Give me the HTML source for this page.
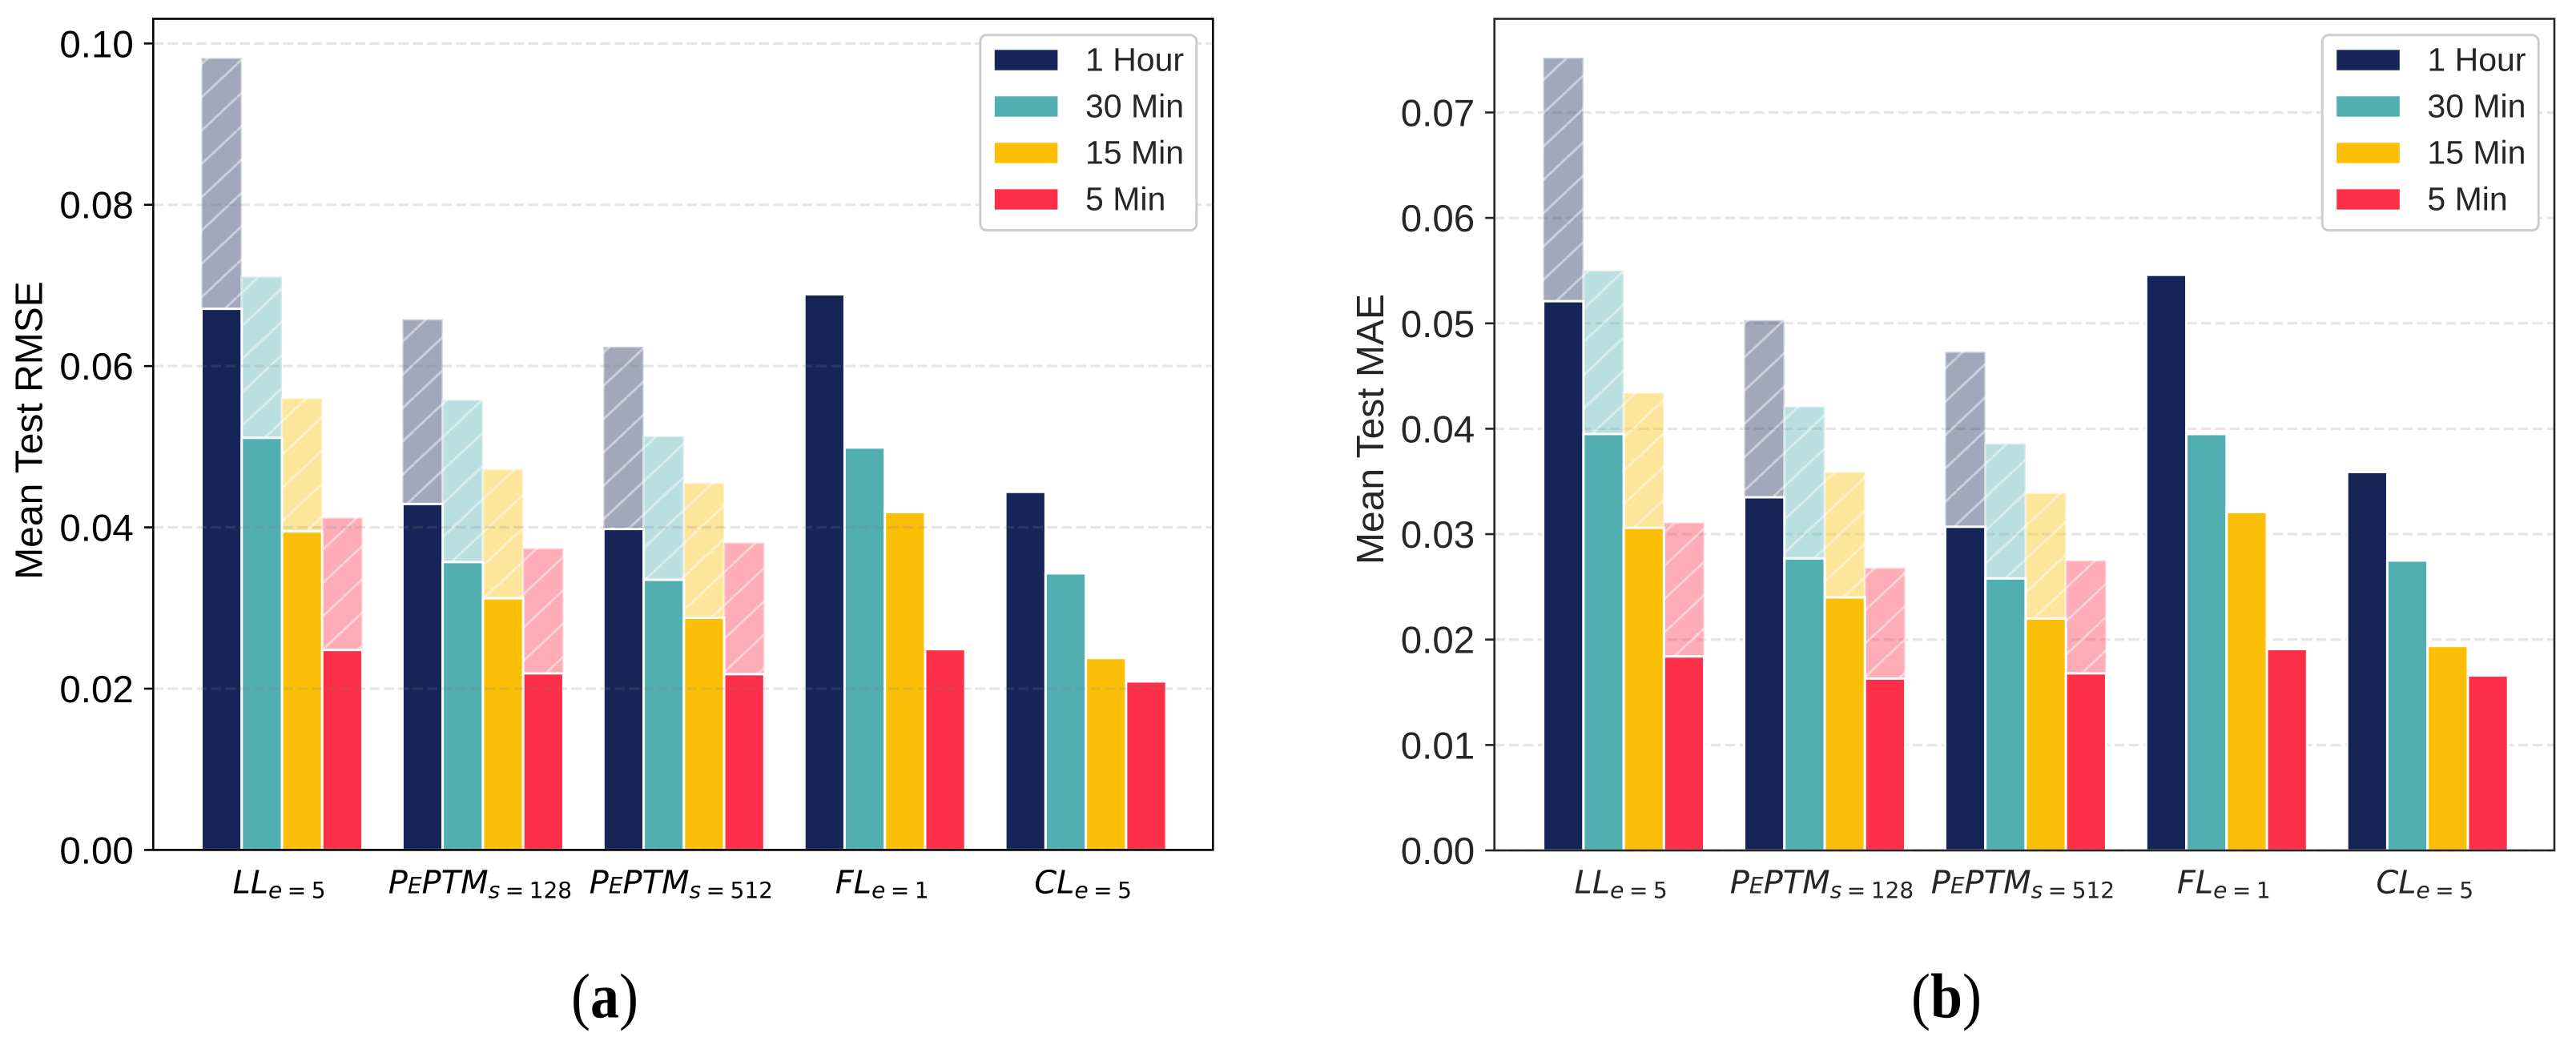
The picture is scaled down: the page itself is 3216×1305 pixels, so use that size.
<!DOCTYPE html>
<html lang="en">
<head>
<meta charset="utf-8">
<title>Mean Test RMSE and MAE</title>
<style>
html,body{margin:0;padding:0;background:#fff;}
svg{display:block;text-rendering:geometricPrecision;}
text{font-family:"Liberation Sans",sans-serif;}
</style>
</head>
<body>
<svg id="figure" xmlns="http://www.w3.org/2000/svg" width="3216" height="1305" viewBox="0 0 3216 1305">
<rect x="0" y="0" width="3216" height="1305" fill="#ffffff"></rect>
<defs id="defs"></defs>
<g id="panel-a"></g>
<g id="panel-b"></g>
<text transform="translate(755,1270.5) scale(1,1.1)" text-anchor="middle" font-size="72" style="font-family:'Liberation Serif',serif" fill="#000">(<tspan font-weight="bold">a</tspan>)</text>
<text transform="translate(2430,1270.5) scale(1,1.1)" text-anchor="middle" font-size="72" style="font-family:'Liberation Serif',serif" fill="#000">(<tspan font-weight="bold">b</tspan>)</text>
</svg>
<script>
// Shared labels
const seriesLabels = ["1 Hour", "30 Min", "15 Min", "5 Min"];
const categories = ["LL_e_5", "PEPTM_s_128", "PEPTM_s_512", "FL_e_1", "CL_e_5"];

// Panel (a): solid values per series, one per category
const rmseHour = [0.0671, 0.0429, 0.0398, 0.0689, 0.0444];
const rmseThirty = [0.0511, 0.0357, 0.0335, 0.0499, 0.0343];
const rmseFifteen = [0.0395, 0.0312, 0.0288, 0.0419, 0.0238];
const rmseFive = [0.0248, 0.0219, 0.0218, 0.0249, 0.0209];
// Panel (a): lighter hatched tops (null = none)
const rmseHourTop = [0.0982, 0.0658, 0.0624, null, null];
const rmseThirtyTop = [0.0711, 0.0558, 0.0513, null, null];
const rmseFifteenTop = [0.0560, 0.0472, 0.0455, null, null];
const rmseFiveTop = [0.0412, 0.0374, 0.0381, null, null];
const rmseTicks = ["0.00", "0.02", "0.04", "0.06", "0.08", "0.10"];

// Panel (b): solid values
const maeHour = [0.0521, 0.0335, 0.0307, 0.0546, 0.0359];
const maeThirty = [0.0395, 0.0277, 0.0258, 0.0395, 0.0275];
const maeFifteen = [0.0306, 0.0240, 0.0220, 0.0321, 0.0194];
const maeFive = [0.0184, 0.0163, 0.0168, 0.0191, 0.0166];
// Panel (b): lighter hatched tops
const maeHourTop = [0.0752, 0.0503, 0.0473, null, null];
const maeThirtyTop = [0.0550, 0.0421, 0.0386, null, null];
const maeFifteenTop = [0.0434, 0.0359, 0.0339, null, null];
const maeFiveTop = [0.0311, 0.0268, 0.0275, null, null];
const maeTicks = ["0.00", "0.01", "0.02", "0.03", "0.04", "0.05", "0.06", "0.07"];

const palette = ["#152558", "#51aeb1", "#fcbf07", "#fd2f49"];
const NS = "http://www.w3.org/2000/svg";

function el(tag, attrs, parent) {
  const node = document.createElementNS(NS, tag);
  for (const k in attrs) node.setAttribute(k, attrs[k]);
  if (parent) parent.appendChild(node);
  return node;
}

function addXLabel(parent, name, x, baseline, color) {
  const parts = name.split("_");
  const t = el("text", {x: x, y: baseline, "text-anchor": "middle", "font-size": 40, fill: color, style: "font-family:'DejaVu Sans',sans-serif"}, parent);
  
  
  const base = parts[0];
  if (base.startsWith("PE")) {
    el("tspan", {"font-style": "italic"}, t).textContent = "P";
    el("tspan", {"font-style": "italic", "font-size": 28}, t).textContent = "E";
    el("tspan", {"font-style": "italic"}, t).textContent = base.slice(2);
  } else {
    el("tspan", {"font-style": "italic"}, t).textContent = base;
  }
  el("tspan", {"font-style": "italic", "font-size": 28, dy: 6}, t).textContent = parts[1];
  el("tspan", {"font-size": 28, dx: 6.5}, t).textContent = "=";
  el("tspan", {"font-size": 28, dx: 6.5}, t).textContent = parts[2];
}

function drawPanel(cfg) {
  const g = document.getElementById(cfg.id);
  const y = v => cfg.y0 - v * cfg.yScale;
  const x = (c, s) => cfg.barStart + c * cfg.groupStep + s * cfg.barWidth;

  const defs = document.getElementById("defs");
  const pat = el("pattern", {id: cfg.id + "-hatch", patternUnits: "userSpaceOnUse", width: 44.25, height: 41.6, patternTransform: "translate(" + cfg.hatchX + "," + cfg.hatchY + ")"}, defs);
  [-1, 0, 1].forEach(k => {
    el("line", {x1: k * 44.25, y1: 41.6, x2: (k + 1) * 44.25, y2: 0, stroke: "#fff", "stroke-opacity": 0.45, "stroke-width": 3}, pat);
  });

  function drawGrid() {
    cfg.ticks.forEach(lbl => {
      const v = Number(lbl);
      const line = el("line", {x1: cfg.left, x2: cfg.right, y1: y(v), y2: y(v), stroke: "#808080", "stroke-opacity": 0.2, "stroke-width": 3.3, "stroke-dasharray": "12.6 5.4"}, g);
      
      
    });
  }

  if (!cfg.gridOnTop) drawGrid();

  cfg.tops.forEach((series, s) => {
    series.forEach((val, c) => {
      if (val === null) return;
      const attrs = {x: x(c, s), y: y(val), width: cfg.barWidth, height: cfg.y0 - y(val)};
      const fill = el("rect", Object.assign({}, attrs, {fill: palette[s], "fill-opacity": 0.4}), g);
      
      
      const hatch = el("rect", Object.assign({}, attrs, {fill: "url(#" + cfg.id + "-hatch)", stroke: "#fff", "stroke-opacity": 0.4, "stroke-width": 3}), g);
      
      
    });
  });

  cfg.solids.forEach((series, s) => {
    series.forEach((val, c) => {
      const bar = el("rect", {x: x(c, s), y: y(val), width: cfg.barWidth, height: cfg.y0 - y(val), fill: palette[s], stroke: "#fff", "stroke-width": 3}, g);
      
      
    });
  });

  if (cfg.gridOnTop) drawGrid();

  // spines
  const frame = el("rect", {x: cfg.left, y: cfg.top, width: cfg.right - cfg.left, height: cfg.y0 - cfg.top, fill: "none", stroke: cfg.axisColor, "stroke-width": 2.6}, g);
  
  

  // y ticks
  cfg.ticks.forEach(lbl => {
    const v = Number(lbl);
    const tick = el("line", {x1: cfg.left - 11.5, x2: cfg.left, y1: y(v), y2: y(v), stroke: cfg.axisColor, "stroke-width": 2.6}, g);
    
    
    const t = el("text", {x: cfg.left - 24.5, y: y(v) + 17, "text-anchor": "end", "font-size": 47.5, fill: cfg.axisColor}, g);
    
    
    t.textContent = lbl;
  });

  // y title
  const title = el("text", {transform: "translate(" + cfg.titleX + "," + cfg.titleY + ") rotate(-90)", "text-anchor": "middle", "font-size": 48, fill: cfg.axisColor}, g);
  
  
  title.textContent = cfg.title;

  // x labels
  categories.forEach((name, c) => {
    addXLabel(g, name, x(c, 2) - 3.5, 1115.7, cfg.axisColor);
  });

  // legend
  const legend = el("g", {}, g);
  
  
  const box = el("rect", {x: cfg.legendX, y: 43.8, width: 270, height: 243.8, rx: 8, ry: 8, fill: "#fff", stroke: "#cccccc", "stroke-width": 3}, legend);
  
  
  seriesLabels.forEach((lbl, s) => {
    const sw = el("rect", {x: cfg.legendX + 18, y: 62.3 + s * 58, width: 78.6, height: 25.4, fill: palette[s]}, legend);
    
    
    const t = el("text", {x: cfg.legendX + 131.2, y: 88.3 + s * 58, "font-size": 41, fill: "#262626"}, legend);
    
    
    t.textContent = lbl;
  });
}

drawPanel({
  id: "panel-a", left: 191.3, right: 1514.3, top: 23.5, y0: 1061.4, yScale: 10071,
  barStart: 251.5, groupStep: 250.9, barWidth: 50.25,
  hatchX: 251.5, hatchY: 80.1, gridOnTop: true, axisColor: "#000000",
  ticks: rmseTicks, title: "Mean Test RMSE", titleX: 52.5, titleY: 537.5, legendX: 1223.8,
  solids: [rmseHour, rmseThirty, rmseFifteen, rmseFive],
  tops: [rmseHourTop, rmseThirtyTop, rmseFifteenTop, rmseFiveTop]
});
drawPanel({
  id: "panel-b", left: 1865.7, right: 3189, top: 23.5, y0: 1062, yScale: 13165,
  barStart: 1926.6, groupStep: 250.9, barWidth: 50.25,
  hatchX: 2177.3, hatchY: 405.1, gridOnTop: false, axisColor: "#262626",
  ticks: maeTicks, title: "Mean Test MAE", titleX: 1727, titleY: 536, legendX: 2899.2,
  solids: [maeHour, maeThirty, maeFifteen, maeFive],
  tops: [maeHourTop, maeThirtyTop, maeFifteenTop, maeFiveTop]
});
</script>
</body>
</html>
